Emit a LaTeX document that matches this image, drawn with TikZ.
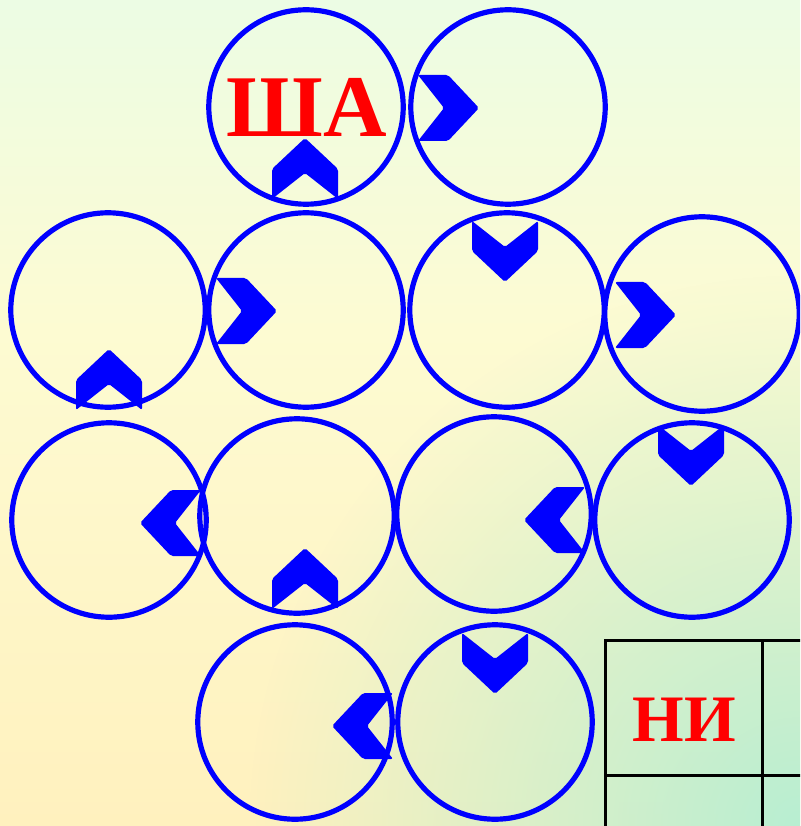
\documentclass[tikz,border=0pt]{standalone}
\usepackage{fontspec}
\setmainfont{Liberation Serif}
\usepackage{tikz}
\usetikzlibrary{fadings}
\usepackage{xcolor}
\definecolor{ringblue}{RGB}{0,0,255}
\definecolor{letterred}{RGB}{255,0,0}
\definecolor{bgtop}{RGB}{236,252,228}
\definecolor{bgmid}{RGB}{253,251,210}
\definecolor{bgbot}{RGB}{255,241,190}
\definecolor{bgmint}{RGB}{184,238,210}

\tikzfading[name=mintfade, inner color=transparent!0, outer color=transparent!100]

\tikzset{
  ring/.style={circle,draw=ringblue,line width=0.13cm,minimum size=4.86cm,inner sep=0pt},
  syl/.style={text=letterred,anchor=base,inner sep=0pt},
  chev/.pic={\fill[ringblue,rounded corners=0.05cm]
    (0,0) -- (33,31) -- (33,61) -- (0,35) -- (-33,61) -- (-33,31) -- cycle;},
  gridline/.style={line width=0.075cm,black}
}

\begin{document}
\begin{tikzpicture}[x=0.025cm,y=-0.025cm]

  \useasboundingbox (0,0) rectangle (800,826);
  \clip (0,0) rectangle (800,826);

  % ── background ───────────────────────────────────────────────────
  \shade[top color=bgtop,bottom color=bgmid] (0,0) rectangle (800,332);
  \shade[top color=bgmid,bottom color=bgbot] (0,330) rectangle (800,826);
  \fill[bgmint,path fading=mintfade] (250,276) rectangle (1350,1376);

  % ── table corner ─────────────────────────────────────────────────
  \draw[gridline] (605,850) -- (605,640) -- (850,640);
  \draw[gridline] (762,640) -- (762,850);
  \draw[gridline] (605,775) -- (850,775);
  \node[syl,font=\bfseries\fontsize{47.2}{52}\selectfont] (ni) at (684,741) {НИ};

  % ── rings ────────────────────────────────────────────────────────
  \node[ring] (c1)  at (306,107) {};
  \node[ring] (c2)  at (508,107) {};
  \node[ring] (c3)  at (108,310) {};
  \node[ring] (c4)  at (306,310) {};
  \node[ring] (c5)  at (507,310) {};
  \node[ring] (c6)  at (702,314) {};
  \node[ring] (c7)  at (109,520) {};
  \node[ring] (c8)  at (297,516) {};
  \node[ring] (c9)  at (494,514) {};
  \node[ring] (c10) at (692,520) {};
  \node[ring] (c11) at (295,722) {};
  \node[ring] (c12) at (495,722) {};

  % ── chevrons ─────────────────────────────────────────────────────
  % up
  \pic at (305,138) {chev};
  \pic at (109,349) {chev};
  \pic at (305,548) {chev};
  % right
  \pic[rotate=-90] at (479,108) {chev};
  \pic[rotate=-90] at (277,311) {chev};
  \pic[rotate=-90] at (676,315) {chev};
  % down
  \pic[rotate=180] at (505,282) {chev};
  \pic[rotate=180] at (691,486) {chev};
  \pic[rotate=180] at (495,694) {chev};
  % left
  \pic[rotate=90] at (140,523) {chev};
  \pic[rotate=90] at (524,520) {chev};
  \pic[rotate=90] at (332,726) {chev};

  % start syllable
  \node[syl,font=\bfseries\fontsize{62.6}{70}\selectfont] (sha) at (307,137) {ША};

\end{tikzpicture}
\end{document}
